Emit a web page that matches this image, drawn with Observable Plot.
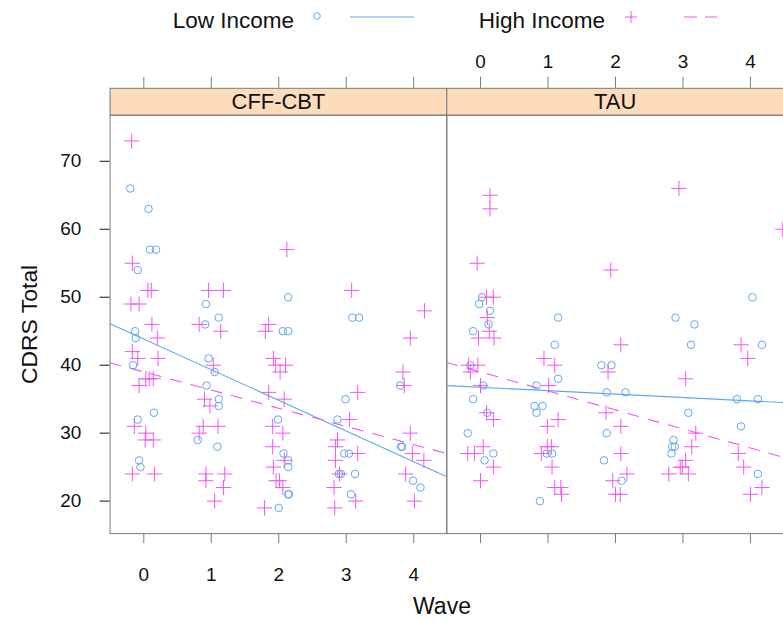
<!DOCTYPE html>
<html>
<head>
<meta charset="utf-8">
<script src="https://cdn.jsdelivr.net/npm/d3@7"></script>
<script src="https://cdn.jsdelivr.net/npm/@observablehq/plot@0.6"></script>
<style>
  html, body { margin: 0; padding: 0; background: #fff; overflow: hidden; width: 783px; height: 621px; }
  body { font-family: "Liberation Sans", Arial, sans-serif; }
  #legend { height: 40px; }
  #xlab { height: 41px; width: 783px; text-align: center; font-size: 23px; line-height: 56px; color: #111; padding-left: 101px; box-sizing: border-box; }
</style>
</head>
<body>
<div id="legend"></div>
<div id="chart"></div>
<div id="xlab">Wave</div>
<script>
// ---- data ----
const panels = ["CFF-CBT", "TAU"];
const incomeGroups = ["Low Income", "High Income"];
const waveTicks = [0, 1, 2, 3, 4];
const yTicks = [20, 30, 40, 50, 60, 70];

// [jittered wave, CDRS total]
const cffLow = [[-0.2,66],[0.07,63],[0.09,57],[0.18,57],[-0.09,54],[0.92,49],[1.11,47],[0.91,46],[-0.13,45],[-0.12,44],
  [-0.16,40],[0.96,41],[1.05,39],[0.93,37],[1.11,35],[1.11,34],[0.15,33],[-0.09,32],[0.8,29],[1.09,28],[-0.07,26],[-0.05,25],
  [2.0,19],[2.14,50],[3.09,47],[3.19,47],[2.06,45],[2.14,45],[3.8,37],[2.99,35],[1.99,32],[2.87,32],[3.81,28],[3.83,28],
  [2.07,27],[2.14,26],[2.14,25],[2.97,27],[3.04,27],[2.89,24],[2.92,24],[3.13,24],[3.99,23],[4.1,22],[2.14,21],[2.15,21],[3.07,21]];
const cffHigh = [[-0.18,73],[-0.17,55],[0.06,51],[0.11,51],[0.96,51],[1.18,51],[-0.19,49],[-0.07,49],[0.12,46],[0.82,46],
  [1.14,45],[1.85,46],[1.8,45],[0.2,44],[-0.17,42],[-0.09,41],[0.21,41],[1.92,41],[1.03,40],[1.95,40],[0.03,38],[0.08,38],
  [0.14,38],[-0.07,37],[0.9,35],[0.98,34],[1.85,36],[-0.14,31],[0.03,30],[0.02,29],[0.14,29],[0.82,30],[0.88,31],[1.1,31],
  [1.91,31],[1.91,28],[1.92,25],[-0.17,24],[0.16,24],[0.92,24],[1.2,24],[0.92,23],[1.18,22],[1.05,20],[1.79,19],[1.96,23],
  [2.12,57],[3.08,51],[4.16,48],[3.95,44],[2.1,40],[2.02,39],[3.84,39],[3.86,37],[2.08,35],[3.17,36],[3.05,32],[2.06,30],
  [3.95,30],[2.87,29],[2.84,28],[2.08,26],[3.17,27],[2.84,26],[3.98,27],[4.15,26],[2.9,24],[3.88,24],[2.01,23],[2.06,22],
  [2.82,22],[3.14,20],[4.01,20],[2.83,19]];
const tauLow = [[0.02,50],[-0.02,49],[0.14,48],[1.15,47],[0.12,46],[-0.11,45],[1.1,43],[1.15,38],[1.79,40],[1.94,40],
  [-0.15,40],[0.04,37],[0.83,37],[-0.11,35],[0.8,34],[0.92,34],[0.83,33],[0.1,33],[1.87,36],[-0.19,30],[1.87,30],[0.19,27],
  [0.06,26],[0.98,27],[1.06,27],[0.88,20],[1.83,26],[4.03,50],[2.89,47],[3.17,46],[3.12,43],[4.17,43],[2.15,36],[3.8,35],
  [4.11,35],[3.08,33],[3.86,31],[2.86,29],[2.84,28],[2.88,28],[2.83,27],[2.09,23],[4.11,24]];
const tauHigh = [[0.14,65],[0.14,63],[-0.05,55],[1.93,54],[0.09,50],[0.19,50],[0.1,47],[0.13,45],[-0.03,44],[0.2,44],
  [0.94,41],[1.1,40],[-0.18,40],[-0.04,40],[-0.15,39],[1.89,39],[0.0,37],[1.01,37],[0.09,33],[0.19,32],[1.15,32],[0.99,31],
  [1.86,33],[0.04,28],[-0.19,27],[-0.09,27],[0.19,25],[0.0,23],[0.99,28],[1.05,28],[0.9,27],[1.06,25],[1.1,22],[1.19,22],
  [1.2,21],[1.96,23],[2.0,21],[2.94,66],[2.08,43],[3.86,43],[3.96,41],[3.04,38],[2.08,31],[3.19,30],[3.13,28],[2.08,27],
  [3.82,27],[3.04,26],[2.96,25],[3.9,25],[2.79,24],[3.08,24],[2.99,25],[2.17,24],[2.07,21],[4.17,22],[4.0,21],[4.48,60]];

// fitted lines: CDRS at the panel's two x limits
const fitWaves = [-0.5, 4.49];
const cffLowFit = [46.1, 23.6];
const cffHighFit = [40.35, 27.0];
const tauLowFit = [37.0, 34.5];
const tauHighFit = [40.4, 26.45];

// ---- build tables ----
const blue = "#5fa8ee";
const pink = "#f055f0";
const toRows = (arr, panel, income) => arr.map(([wave, cdrs]) => ({panel, income, wave, cdrs}));
const lowPts = [...toRows(cffLow, "CFF-CBT", "Low Income"), ...toRows(tauLow, "TAU", "Low Income")];
const highPts = [...toRows(cffHigh, "CFF-CBT", "High Income"), ...toRows(tauHigh, "TAU", "High Income")];
const fitRows = (vals, panel, income) => fitWaves.map((wave, i) => ({panel, income, wave, cdrs: vals[i]}));
const lowFit = [...fitRows(cffLowFit, "CFF-CBT", "Low Income"), ...fitRows(tauLowFit, "TAU", "Low Income")];
const highFit = [...fitRows(cffHighFit, "CFF-CBT", "High Income"), ...fitRows(tauHighFit, "TAU", "High Income")];
const tickRows = panels.flatMap(panel => waveTicks.map(v => ({panel, v})));
const bottomLabels = waveTicks.map(v => ({panel: "CFF-CBT", v}));
const topLabels = waveTicks.map(v => ({panel: "TAU", v}));

const chart = Plot.plot({
  width: 786,
  height: 540,
  marginLeft: 110,
  marginRight: 0,
  marginTop: 75,
  marginBottom: 45,
  style: {fontFamily: "Liberation Sans, Arial, sans-serif", fontSize: "19px", color: "#111", background: "#fff", overflow: "visible"},
  fx: {domain: panels, padding: 0, axis: null, label: null},
  x: {domain: [-0.5, 4.49], axis: null},
  y: {domain: [15.22, 76.78], ticks: yTicks, tickSize: 10, tickPadding: 19, label: null},
  marks: [
    // strips
    Plot.frame({fill: "#fddcbc", stroke: "#7a7a7a", insetTop: -27, insetBottom: 420}),
    Plot.text(panels, {fx: d => d, text: d => d, frameAnchor: "top", lineAnchor: "middle", dy: -13.5, fontSize: 22, fill: "#111"}),
    // panel border
    Plot.frame({stroke: "#7a7a7a"}),
    // bottom ticks (both panels), labels on first panel
    Plot.tickX(tickRows, {x: "v", fx: "panel", insetTop: 420, insetBottom: -10, stroke: "#7a7a7a"}),
    Plot.text(bottomLabels, {x: "v", fx: "panel", text: d => String(d.v), frameAnchor: "bottom", lineAnchor: "middle", dy: 41, fill: "#111"}),
    // top ticks (above strips), labels on second panel
    Plot.tickX(tickRows, {x: "v", fx: "panel", insetTop: -38, insetBottom: 447, stroke: "#7a7a7a"}),
    Plot.text(topLabels, {x: "v", fx: "panel", text: d => String(d.v), frameAnchor: "top", lineAnchor: "middle", dy: -53, fill: "#111"}),
    // y title
    Plot.text(["CDRS Total"], {fx: () => "CFF-CBT", text: d => d, frameAnchor: "left", textAnchor: "middle", lineAnchor: "middle", dx: -81, rotate: -90, fontSize: 23, fill: "#111"}),
    // fitted lines
    Plot.line(lowFit, {x: "wave", y: "cdrs", fx: "panel", stroke: blue, strokeWidth: 1.1, clip: true}),
    Plot.line(highFit, {x: "wave", y: "cdrs", fx: "panel", stroke: pink, strokeWidth: 1.1, strokeDasharray: "11,10", clip: true}),
    // points
    Plot.dot(lowPts, {x: "wave", y: "cdrs", fx: "panel", symbol: "circle", r: 3.8, stroke: blue, strokeWidth: 1, fill: "none"}),
    Plot.dot(highPts, {x: "wave", y: "cdrs", fx: "panel", symbol: "plus", r: 5, stroke: pink, strokeWidth: 1})
  ]
});
document.getElementById("chart").appendChild(chart);

// legend (key above the chart)
const leg = d3.select("#legend").append("svg").attr("width", 783).attr("height", 40)
  .style("font-family", "Liberation Sans, Arial, sans-serif");
leg.append("text").attr("x", 294).attr("y", 20).attr("text-anchor", "end").attr("dominant-baseline", "central")
  .attr("font-size", 22.5).attr("fill", "#111").text(incomeGroups[0]);
leg.append("circle").attr("cx", 317).attr("cy", 16).attr("r", 3.3).attr("fill", "none").attr("stroke", blue);
leg.append("line").attr("x1", 350).attr("x2", 414).attr("y1", 17).attr("y2", 17).attr("stroke", blue).attr("stroke-width", 1.1);
leg.append("text").attr("x", 605).attr("y", 20).attr("text-anchor", "end").attr("dominant-baseline", "central")
  .attr("font-size", 22.5).attr("fill", "#111").text(incomeGroups[1]);
leg.append("path").attr("d", "M625,17h12M631,11v12").attr("stroke", pink).attr("fill", "none");
leg.append("line").attr("x1", 684).attr("x2", 717).attr("y1", 17).attr("y2", 17).attr("stroke", pink)
  .attr("stroke-width", 1.1).attr("stroke-dasharray", "13,8");
</script>
</body>
</html>
